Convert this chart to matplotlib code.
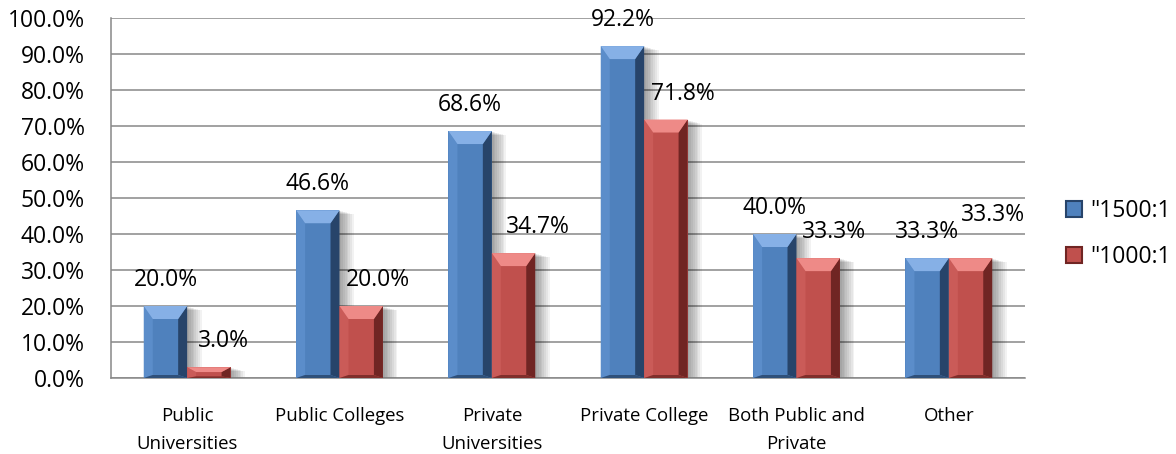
import matplotlib.pyplot as plt
from matplotlib.patches import Polygon, Rectangle, Patch
from matplotlib.ticker import FuncFormatter
import numpy as np

categories = ["Public\nUniversities", "Public Colleges", "Private\nUniversities",
              "Private College", "Both Public and\nPrivate", "Other"]
ratio_1500 = [20.0, 46.6, 68.6, 92.2, 40.0, 33.3]
ratio_1000 = [3.0, 20.0, 34.7, 71.8, 33.3, 33.3]
series_names = ['"1500:1', '"1000:1']

# label nudges in pixels (Excel moved the red labels to the right)
label_dx = [[0, 0, 0, 0, 0, 0], [15, 17, 24, 17, 16, 22]]
label_dy = [[0, 0, 0, 0, 0, 0], [0, 0, 0, 0, 0, 17]]

plt.rcParams['font.family'] = ['Open Sans', 'DejaVu Sans']

W, H = 1176, 454
fig = plt.figure(figsize=(W / 100, H / 100), dpi=100)
ax_l, ax_r, ax_t, ax_b = 111, 1025, 18, 378
ax = fig.add_axes([ax_l / W, (H - ax_b) / H, (ax_r - ax_l) / W, (ax_b - ax_t) / H])

n = len(categories)
ax.set_xlim(-0.5, n - 0.5)
ax.set_ylim(0, 100)

# pixel -> data conversion
px_x = n / (ax_r - ax_l)
px_y = 100 / (ax_b - ax_t)

bar_w = 0.285
colors = [
    dict(base="#4f81bd", top="#86b0e6", left="#5b8dca", right="#27446a", bottom="#2f5079"),
    dict(base="#c0504d", top="#ee8a87", left="#ca5b58", right="#702523", bottom="#802e2b"),
]


def bevel_bar(x0, h, c):
    x1 = x0 + bar_w
    bx = 9 * px_x
    bt = min(13 * px_y, h * 0.45)
    bb = min(3 * px_y, h * 0.15)
    # soft drop shadow to the right
    for k in range(1, 9):
        ax.add_patch(Rectangle((x0 + k * 1.8 * px_x, 0), bar_w, max(h - k * 0.5 * px_y, 0),
                               color="black", alpha=0.05, lw=0, zorder=2))
    ax.add_patch(Rectangle((x0, 0), bar_w, h, color=c["base"], lw=0, zorder=3))
    ax.add_patch(Polygon([(x0, 0), (x0 + bx, bb), (x0 + bx, h - bt), (x0, h)],
                         color=c["left"], lw=0, zorder=4))
    ax.add_patch(Polygon([(x1, 0), (x1 - bx, bb), (x1 - bx, h - bt), (x1, h)],
                         color=c["right"], lw=0, zorder=4))
    ax.add_patch(Polygon([(x0, h), (x1, h), (x1 - bx, h - bt), (x0 + bx, h - bt)],
                         color=c["top"], lw=0, zorder=4))
    ax.add_patch(Polygon([(x0, 0), (x1, 0), (x1 - bx, bb), (x0 + bx, bb)],
                         color=c["bottom"], lw=0, zorder=4))


x = np.arange(n)
for s, vals in enumerate([ratio_1500, ratio_1000]):
    for i, v in enumerate(vals):
        x0 = x[i] - bar_w + s * bar_w
        bevel_bar(x0, v, colors[s])
        ax.annotate(f"{v:.1f}%", (x0 + bar_w / 2, v),
                    xytext=(label_dx[s][i] * 0.72, (26 + label_dy[s][i]) * 0.72),
                    textcoords="offset points", ha="center", va="center",
                    fontsize=16.5, color="black", zorder=6)

ax.set_yticks(np.arange(0, 101, 10))
ax.yaxis.set_major_formatter(FuncFormatter(lambda v, p: f"{v:.1f}%"))
ax.grid(axis="y", color="#888888", lw=1.1, zorder=1)
ax.set_axisbelow(True)
ax.set_xticks(x)
ax.set_xticklabels(categories, fontsize=13.4, linespacing=1.7)
ax.tick_params(axis="y", length=0, pad=19, labelsize=16.5)
ax.tick_params(axis="x", length=0, pad=21)
for side in ["top", "right"]:
    ax.spines[side].set_visible(False)
for side in ["left", "bottom"]:
    ax.spines[side].set_color("#888888")
    ax.spines[side].set_linewidth(1.1)

handles = [Patch(facecolor=c["base"], edgecolor=c["right"], lw=1.5) for c in colors]
ax.legend(handles, series_names, loc="center left", bbox_to_anchor=(1.045, 0.40),
          frameon=False, fontsize=16.5, handlelength=0.7, handleheight=0.7,
          handletextpad=0.35, labelspacing=1.0, borderpad=0, borderaxespad=0)

fig.savefig("out.png", dpi=100)
